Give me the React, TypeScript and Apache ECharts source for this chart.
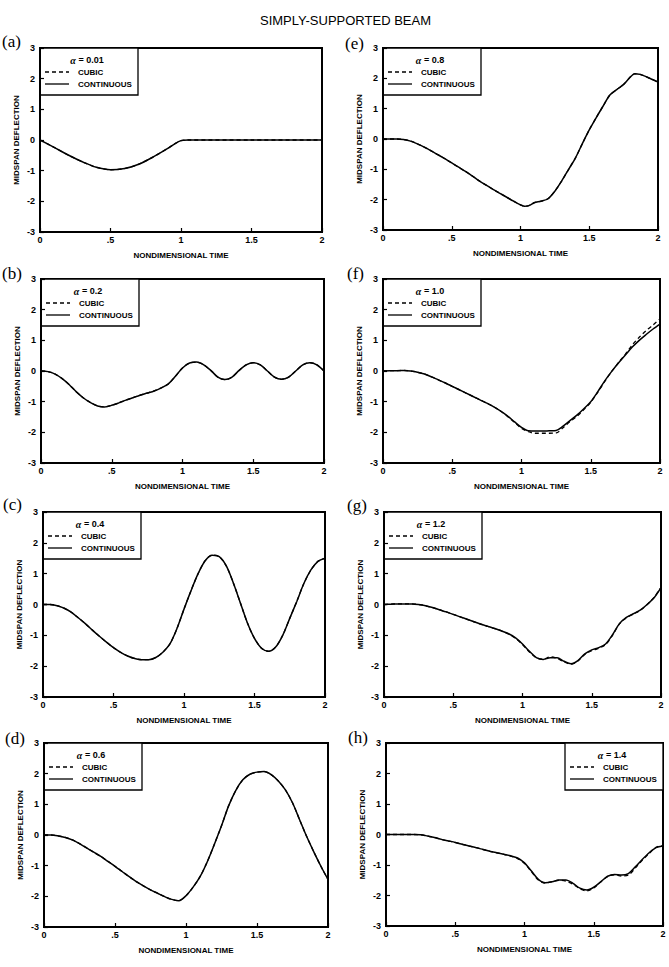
import React, { useEffect, useRef } from "react";
import * as echarts from "echarts";

// ---------- data ----------
const TITLE = "SIMPLY-SUPPORTED BEAM";
const X_NAME = "NONDIMENSIONAL TIME";
const Y_NAME = "MIDSPAN DEFLECTION";
const X_TICKS = [0, 0.5, 1, 1.5, 2];
const PANEL_LABELS = ["(a)", "(b)", "(c)", "(d)", "(e)", "(f)", "(g)", "(h)"];
const ALPHAS = ["0.01", "0.2", "0.4", "0.6", "0.8", "1.0", "1.2", "1.4"];
const SERIES_NAMES = ["CUBIC", "CONTINUOUS"];

const T_A = [0, 0.1, 0.2, 0.3, 0.4, 0.5, 0.6, 0.7, 0.8, 0.9, 0.95, 1.0, 1.05, 1.5, 2.0];
const CONT_A = [0, -0.24, -0.49, -0.71, -0.89, -0.97, -0.93, -0.79, -0.56, -0.29, -0.14, -0.02, 0, 0, 0];
const CUBIC_A = CONT_A;

const T_STEP = [0, 0.05, 0.1, 0.15, 0.2, 0.25, 0.3, 0.35, 0.4, 0.45, 0.5, 0.55, 0.6, 0.65, 0.7, 0.75, 0.8, 0.85, 0.9, 0.95, 1.0,
  1.05, 1.1, 1.15, 1.2, 1.25, 1.3, 1.35, 1.4, 1.45, 1.5, 1.55, 1.6, 1.65, 1.7, 1.75, 1.8, 1.85, 1.9, 1.95, 2.0];

const CONT_B = [0, -0.02, -0.1, -0.25, -0.45, -0.68, -0.88, -1.03, -1.14, -1.17, -1.12, -1.04, -0.95, -0.87, -0.79, -0.72, -0.65, -0.55, -0.42, -0.17, 0.1,
  0.26, 0.29, 0.2, 0.02, -0.2, -0.28, -0.2, 0.02, 0.2, 0.27, 0.2, 0.0, -0.2, -0.27, -0.2, 0.0, 0.2, 0.27, 0.2, 0.0];
const CUBIC_B = CONT_B;

const CONT_C = [0, 0.0, -0.04, -0.12, -0.25, -0.43, -0.62, -0.83, -1.03, -1.22, -1.4, -1.55, -1.67, -1.75, -1.79, -1.79, -1.72, -1.55, -1.28, -0.78, -0.15,
  0.45, 1.0, 1.42, 1.6, 1.55, 1.25, 0.7, 0.05, -0.6, -1.1, -1.42, -1.52, -1.38, -1.0, -0.45, 0.1, 0.68, 1.12, 1.4, 1.5];
const CUBIC_C = CONT_C;

const CONT_D = [0, 0.0, -0.03, -0.08, -0.16, -0.28, -0.42, -0.56, -0.7, -0.86, -1.02, -1.19, -1.36, -1.52, -1.66, -1.79, -1.9, -2.01, -2.1, -2.14, -1.98,
  -1.7, -1.35, -0.87, -0.3, 0.3, 0.95, 1.45, 1.8, 1.98, 2.05, 2.07, 1.97, 1.76, 1.47, 1.05, 0.5, -0.05, -0.55, -1.02, -1.45];
const CUBIC_D = CONT_D;

const T_E = [0, 0.1, 0.15, 0.2, 0.25, 0.3, 0.35, 0.4, 0.45, 0.5, 0.55, 0.6, 0.65, 0.7, 0.75, 0.8, 0.85, 0.9, 0.95, 1.0, 1.03, 1.07,
  1.1, 1.15, 1.2, 1.25, 1.3, 1.35, 1.4, 1.45, 1.5, 1.55, 1.6, 1.65, 1.7, 1.75, 1.8, 1.83, 1.87, 1.9, 1.95, 2.0];
const CONT_E = [0, 0, -0.02, -0.07, -0.16, -0.27, -0.39, -0.52, -0.65, -0.79, -0.93, -1.07, -1.22, -1.38, -1.52, -1.66, -1.79, -1.92, -2.05, -2.17, -2.22, -2.18,
  -2.1, -2.05, -1.97, -1.72, -1.38, -1.0, -0.62, -0.15, 0.3, 0.7, 1.08, 1.45, 1.63, 1.8, 2.05, 2.15, 2.13, 2.08, 1.98, 1.88];
const CUBIC_E = CONT_E;

const CONT_F = [0, 0.01, 0.01, 0.02, 0.0, -0.04, -0.1, -0.19, -0.29, -0.39, -0.5, -0.61, -0.72, -0.83, -0.94, -1.05, -1.17, -1.31, -1.47, -1.66, -1.84,
  -1.95, -1.96, -1.96, -1.95, -1.94, -1.8, -1.62, -1.44, -1.23, -1.0, -0.68, -0.33, -0.02, 0.26, 0.52, 0.78, 1.0, 1.19, 1.37, 1.53];
const CUBIC_F = [0, 0.01, 0.01, 0.02, 0.0, -0.04, -0.1, -0.19, -0.29, -0.39, -0.5, -0.61, -0.72, -0.83, -0.94, -1.05, -1.17, -1.31, -1.48, -1.68, -1.87,
  -1.98, -2.03, -2.03, -2.03, -2.02, -1.85, -1.65, -1.48, -1.26, -1.02, -0.7, -0.35, -0.02, 0.27, 0.55, 0.85, 1.1, 1.32, 1.5, 1.7];

const CONT_G = [0, 0.01, 0.02, 0.02, 0.02, 0.0, -0.04, -0.1, -0.17, -0.24, -0.32, -0.4, -0.48, -0.56, -0.64, -0.71, -0.78, -0.86, -0.95, -1.08, -1.28,
  -1.52, -1.72, -1.78, -1.73, -1.73, -1.84, -1.92, -1.82, -1.6, -1.47, -1.4, -1.28, -0.98, -0.62, -0.42, -0.3, -0.18, 0.0, 0.22, 0.55];
const CUBIC_G = [0, 0.01, 0.02, 0.02, 0.02, 0.0, -0.04, -0.1, -0.17, -0.24, -0.32, -0.4, -0.48, -0.56, -0.64, -0.71, -0.78, -0.86, -0.96, -1.1, -1.3,
  -1.54, -1.73, -1.77, -1.7, -1.75, -1.86, -1.94, -1.83, -1.62, -1.5, -1.42, -1.3, -1.0, -0.63, -0.43, -0.31, -0.19, 0.0, 0.23, 0.56];

const CONT_H = [0, 0, 0, 0, 0, -0.01, -0.05, -0.1, -0.16, -0.21, -0.26, -0.32, -0.38, -0.43, -0.49, -0.55, -0.6, -0.65, -0.7, -0.77, -0.93,
  -1.2, -1.47, -1.58, -1.55, -1.49, -1.49, -1.6, -1.76, -1.82, -1.73, -1.55, -1.37, -1.31, -1.33, -1.28, -1.06, -0.82, -0.6, -0.43, -0.38];
const CUBIC_H = [0, 0, 0, 0, 0, -0.01, -0.05, -0.1, -0.16, -0.21, -0.26, -0.32, -0.38, -0.43, -0.49, -0.55, -0.6, -0.65, -0.71, -0.79, -0.95,
  -1.22, -1.49, -1.59, -1.54, -1.5, -1.53, -1.63, -1.78, -1.85, -1.75, -1.56, -1.38, -1.32, -1.36, -1.33, -1.1, -0.85, -0.62, -0.42, -0.36];

const TIMES = [T_A, T_STEP, T_STEP, T_STEP, T_E, T_STEP, T_STEP, T_STEP];
const CONTS = [CONT_A, CONT_B, CONT_C, CONT_D, CONT_E, CONT_F, CONT_G, CONT_H];
const CUBICS = [CUBIC_A, CUBIC_B, CUBIC_C, CUBIC_D, CUBIC_E, CUBIC_F, CUBIC_G, CUBIC_H];

// ---------- layout ----------
const GRIDS = [
  { left: 40, top: 48, width: 282, height: 184 },
  { left: 41, top: 279, width: 283, height: 184 },
  { left: 43, top: 512, width: 282, height: 185 },
  { left: 44, top: 743, width: 284, height: 184 },
  { left: 383, top: 48, width: 275, height: 182 },
  { left: 383, top: 279, width: 277, height: 184 },
  { left: 384, top: 512, width: 277, height: 185 },
  { left: 386, top: 743, width: 277, height: 183 },
];
const LEGEND_RIGHT = [false, false, false, false, false, false, false, true];
const LABEL_POS = [
  [2, 33], [2, 265], [3, 496], [5, 730],
  [345, 35], [347, 265], [347, 497], [348, 729],
];

const FONT = "'Liberation Sans', Arial, sans-serif";

function buildOption() {
  const grid = GRIDS.map((g) => ({
    ...g,
    show: true,
    borderColor: "#000",
    borderWidth: 2,
    backgroundColor: "transparent",
  }));
  const xAxis = GRIDS.map((_, i) => ({
    type: "value",
    gridIndex: i,
    min: 0,
    max: 2,
    interval: 0.5,
    axisLine: { show: true, onZero: false, lineStyle: { color: "#000", width: 2 } },
    axisTick: { show: true, inside: true, length: 4, lineStyle: { color: "#000", width: 1.2 } },
    splitLine: { show: false },
    axisLabel: {
      color: "#000",
      fontSize: 9,
      fontWeight: "bold",
      fontFamily: FONT,
      margin: 3,
      showMinLabel: true,
      showMaxLabel: true,
      formatter: (v: number) => (X_TICKS.indexOf(v) >= 0 ? (v === 0.5 ? ".5" : String(v)) : ""),
    },
    name: X_NAME,
    nameLocation: "middle",
    nameGap: 19,
    nameTextStyle: { color: "#000", fontSize: 8, fontWeight: "bold", fontFamily: FONT },
  }));
  const yAxis = GRIDS.map((_, i) => ({
    type: "value",
    gridIndex: i,
    min: -3,
    max: 3,
    interval: 1,
    axisLine: { show: true, onZero: false, lineStyle: { color: "#000", width: 2 } },
    axisTick: { show: true, inside: true, length: 4, lineStyle: { color: "#000", width: 1.2 } },
    splitLine: { show: false },
    axisLabel: {
      color: "#000",
      fontSize: 9,
      fontWeight: "bold",
      fontFamily: FONT,
      margin: 5,
      showMinLabel: true,
      showMaxLabel: true,
    },
    name: Y_NAME,
    nameLocation: "middle",
    nameGap: 20,
    nameRotate: 90,
    nameTextStyle: { color: "#000", fontSize: 8, fontWeight: "bold", fontFamily: FONT },
  }));

  const series: any[] = [];
  GRIDS.forEach((_, i) => {
    const t = TIMES[i];
    series.push({
      name: SERIES_NAMES[0],
      type: "line",
      xAxisIndex: i,
      yAxisIndex: i,
      data: t.map((x, k) => [x, CUBICS[i][k]]),
      symbol: "none",
      smooth: 0.3,
      lineStyle: { color: "#000", width: 1.3, type: [4, 3] },
      z: 2,
    });
    series.push({
      name: SERIES_NAMES[1],
      type: "line",
      xAxisIndex: i,
      yAxisIndex: i,
      data: t.map((x, k) => [x, CONTS[i][k]]),
      symbol: "none",
      smooth: 0.3,
      lineStyle: { color: "#000", width: 1.5, type: "solid" },
      z: 3,
    });
  });

  const graphic: any[] = [
    {
      type: "text",
      left: 260,
      top: 14,
      style: { text: TITLE, fill: "#000", font: `13px ${FONT}` },
    },
  ];
  GRIDS.forEach((g, i) => {
    const [lx, ly] = LABEL_POS[i];
    graphic.push({
      type: "text",
      x: lx,
      y: ly,
      style: { text: PANEL_LABELS[i], fill: "#000", font: `17px 'Liberation Serif', 'DejaVu Serif', serif` },
    });
    const bw = 98;
    const bh = 47;
    const bx = LEGEND_RIGHT[i] ? g.left + g.width - bw : g.left;
    const by = g.top;
    graphic.push({
      type: "group",
      x: bx,
      y: by,
      z: 100,
      children: [
        {
          type: "rect",
          shape: { x: 0, y: 0, width: bw, height: bh },
          style: { fill: "#fff", stroke: "#000", lineWidth: 1.3 },
        },
        {
          type: "text",
          x: 47,
          y: 12,
          style: {
            text: `{a|α} = ${ALPHAS[i]}`,
            align: "center",
            verticalAlign: "middle",
            rich: {
              a: { fontSize: 10, fontStyle: "italic", fontWeight: "bold", fontFamily: "'Liberation Serif', serif", fill: "#000" },
            },
            fill: "#000",
            font: `bold 9px ${FONT}`,
          },
        },
        {
          type: "line",
          shape: { x1: 5, y1: 24, x2: 29, y2: 24 },
          style: { stroke: "#000", lineWidth: 1.3, lineDash: [4, 3] },
        },
        {
          type: "text",
          x: 38,
          y: 24,
          style: { text: SERIES_NAMES[0], fill: "#000", font: `bold 8px ${FONT}`, verticalAlign: "middle" },
        },
        {
          type: "line",
          shape: { x1: 5, y1: 36, x2: 29, y2: 36 },
          style: { stroke: "#000", lineWidth: 1.3 },
        },
        {
          type: "text",
          x: 38,
          y: 36,
          style: { text: SERIES_NAMES[1], fill: "#000", font: `bold 8px ${FONT}`, verticalAlign: "middle" },
        },
      ],
    });
  });

  return {
    animation: false,
    backgroundColor: "#fff",
    grid,
    xAxis,
    yAxis,
    series,
    graphic,
  };
}

export default function App() {
  const ref = useRef<HTMLDivElement>(null);
  useEffect(() => {
    if (!ref.current) return;
    const chart = echarts.init(ref.current, undefined, { renderer: "svg" });
    chart.setOption(buildOption() as any);
    return () => chart.dispose();
  }, []);
  return (
    <div
      ref={ref}
      style={{ position: "fixed", left: 0, top: 0, width: 669, height: 967, background: "#fff" }}
    />
  );
}
